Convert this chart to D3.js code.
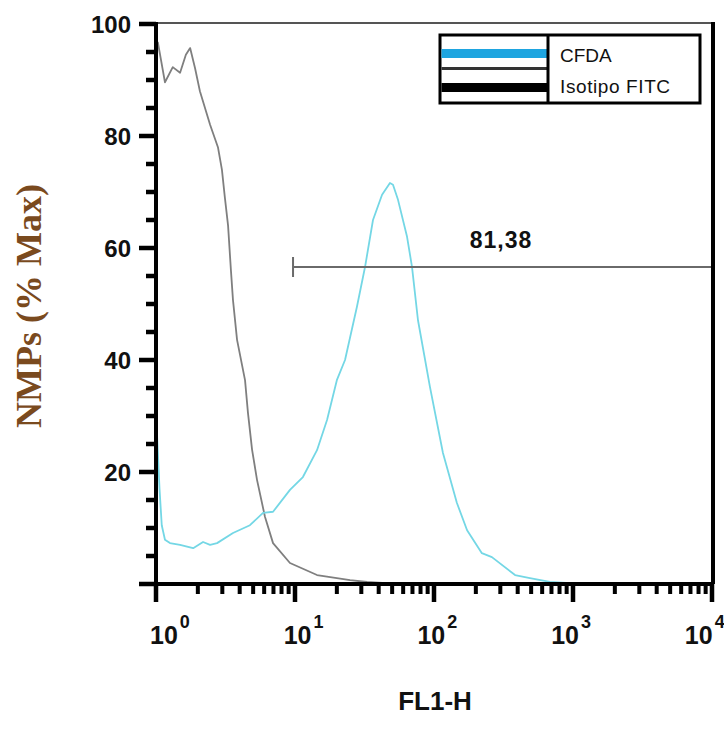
<!DOCTYPE html>
<html>
<head>
<meta charset="utf-8">
<script src="https://cdn.jsdelivr.net/npm/d3@7"></script>
<style>
  html, body { margin: 0; padding: 0; background: #fff; }
  svg { display: block; }
</style>
</head>
<body>
<svg id="chart" width="724" height="729"></svg>
<script>
// ---------- DATA ----------
// Isotype FITC control histogram (FL1-H value, % of max)
const isoFL1 = [1.03, 1.16, 1.32, 1.49, 1.64, 1.76, 1.91, 2.07, 2.45, 2.79, 2.98, 3.13, 3.30, 3.46, 3.58, 3.83, 4.37, 4.59, 4.91, 5.33, 6.08, 6.95, 9.20, 14.4, 24.9, 33.0, 48.2, 79];
const isoPct = [96.8, 89.6, 92.3, 91.3, 94.5, 95.7, 92.1, 88, 82, 78, 74, 69, 64, 56, 50.7, 43.6, 36.4, 30.5, 24, 18.6, 12.0, 7.3, 3.75, 1.6, 0.7, 0.36, 0.1, 0];
// CFDA histogram
const cfdaFL1 = [1.00, 1.02, 1.06, 1.10, 1.16, 1.26, 1.49, 1.85, 2.18, 2.45, 2.75, 3.58, 4.74, 5.89, 6.95, 9.20, 11.4, 14.4, 17.0, 20.0, 22.9, 27.9, 31.9, 36.4, 42.3, 48.2, 50.7, 55.1, 64.0, 69.5, 76.7, 93.5, 116, 146, 173, 221, 261, 383, 490, 682, 955, 1550, 2000];
const cfdaPct = [35, 26, 17, 10.5, 7.9, 7.3, 7.0, 6.4, 7.5, 7.0, 7.3, 9.1, 10.5, 12.7, 12.9, 16.8, 19.1, 23.9, 29.3, 36.4, 40, 49.5, 56.6, 65, 69.5, 71.6, 71.3, 68.6, 62, 56.6, 47.1, 35.2, 23.4, 14.5, 9.6, 5.5, 4.8, 1.6, 1.07, 0.36, 0.15, 0.05, 0];
// Marker gate
const gateRange = [9.68, 10000];
const gateLevel = 56.6;
const gateLabel = "81,38";
// Axes
const xDomain = [1, 10000];
const yDomain = [0, 100];
const xMajorTicks = [1, 10, 100, 1000, 10000];
const xTickExponents = ["0", "1", "2", "3", "4"];
const yMajorTicks = [0, 20, 40, 60, 80, 100];
const yTickLabels = ["", "20", "40", "60", "80", "100"];
const yMinorTicks = [5, 10, 15, 25, 30, 35, 45, 50, 55, 65, 70, 75, 85, 90, 95];
const xMinorMultipliers = [2, 3, 4, 5, 6, 7, 8, 9];
const legendLabels = ["CFDA", "Isotipo FITC"];
const xTitle = "FL1-H";
const yTitle = "NMPs (% Max)";

// ---------- LAYOUT ----------
const L = 156, R = 712, T = 24, B = 584;
const svg = d3.select("#chart");
const x = d3.scaleLog().domain(xDomain).range([L, R]);
const y = d3.scaleLinear().domain(yDomain).range([B, T]);

// curves
const line = d3.line().x(d => x(d[0])).y(d => y(d[1]));
const isoData = isoFL1.map((v, i) => [v, isoPct[i]]);
const cfdaData = cfdaFL1.map((v, i) => [v, cfdaPct[i]]);

svg.append("path").datum(isoData).attr("d", line)
  .attr("fill", "none").attr("stroke", "#7f7f7f").attr("stroke-width", 1.8)
  .attr("stroke-linejoin", "round");
svg.append("path").datum(cfdaData).attr("d", line)
  .attr("fill", "none").attr("stroke", "#74d7e5").attr("stroke-width", 1.8)
  .attr("stroke-linejoin", "round");

// gate marker
svg.append("path")
  .attr("d", `M${x(gateRange[0])},${y(gateLevel)}H${x(gateRange[1])}M${x(gateRange[0])},${y(gateLevel) - 10}V${y(gateLevel) + 10}`)
  .attr("fill", "none").attr("stroke", "#6a6a6a").attr("stroke-width", 2);
svg.append("text")
  .attr("x", 501).attr("y", y(gateLevel) - 19)
  .attr("text-anchor", "middle")
  .attr("font-family", "Liberation Sans, Arial, sans-serif")
  .attr("font-weight", "bold").attr("font-size", 23)
  .attr("letter-spacing", 1)
  .attr("fill", "#111")
  .text(gateLabel);

// frame top / right
svg.append("rect").attr("x", L).attr("y", T - 2).attr("width", R + 3 - L).attr("height", 2).attr("fill", "#555");
svg.append("rect").attr("x", R - 1).attr("y", T - 2).attr("width", 4).attr("height", B - T + 2).attr("fill", "#000");

// y tick labels
svg.append("g").selectAll("text").data(yMajorTicks).join("text")
  .attr("x", L - 25).attr("y", d => y(d)).attr("dy", "0.36em")
  .attr("text-anchor", "end")
  .attr("font-family", "Liberation Sans, Arial, sans-serif")
  .attr("font-weight", "bold").attr("font-size", 24).attr("fill", "#111")
  .text((d, i) => yTickLabels[i]);

// x tick labels 10^n
const xl = svg.append("g");
xMajorTicks.forEach((v, i) => {
  const t = xl.append("text")
    .attr("x", L - 6 + (x(v) - L) * 0.962)
    .attr("y", 644)
    .attr("font-family", "Liberation Sans, Arial, sans-serif")
    .attr("font-weight", "bold").attr("font-size", 25).attr("fill", "#111");
  t.append("tspan").text("10");
  t.append("tspan").attr("dx", 2).attr("dy", -16).attr("font-size", 18).text(xTickExponents[i]);
});

// axis titles
svg.append("text")
  .attr("x", 435).attr("y", 710)
  .attr("text-anchor", "middle")
  .attr("font-family", "Liberation Sans, Arial, sans-serif")
  .attr("font-weight", "bold").attr("font-size", 26).attr("fill", "#111")
  .text(xTitle);
svg.append("text")
  .attr("transform", "translate(41,306) rotate(-90)")
  .attr("text-anchor", "middle")
  .attr("font-family", "Liberation Serif, Times New Roman, serif")
  .attr("font-weight", "bold").attr("font-size", 36).attr("fill", "#7a4a1e")
  .text(yTitle);

// legend
const lg = svg.append("g");
const LX0 = 440, LX1 = 700, LXD = 548, LY0 = 35, LY1 = 103;
lg.append("rect").attr("x", LX0).attr("y", LY0).attr("width", LX1 - LX0).attr("height", LY1 - LY0)
  .attr("fill", "#fff").attr("stroke", "#000").attr("stroke-width", 3);
lg.append("rect").attr("x", LX0 + 1.5).attr("y", 49).attr("width", LXD - LX0 - 1.5).attr("height", 9)
  .attr("fill", "#1ea5e0");
lg.append("rect").attr("x", LX0 + 1.5).attr("y", 67).attr("width", LXD - LX0 - 1.5).attr("height", 3)
  .attr("fill", "#333");
lg.append("rect").attr("x", LX0 + 1.5).attr("y", 83).attr("width", LXD - LX0 - 1.5).attr("height", 9)
  .attr("fill", "#000");
lg.append("rect").attr("x", LXD - 1.5).attr("y", LY0).attr("width", 3).attr("height", LY1 - LY0)
  .attr("fill", "#000");
legendLabels.forEach((t, i) => {
  lg.append("text").attr("x", 560).attr("y", 62 + i * 31)
    .attr("font-family", "Liberation Sans, Arial, sans-serif")
    .attr("font-size", 19).attr("letter-spacing", i === 1 ? 0.6 : 0).attr("fill", "#111")
    .text(t);
});

// axes and ticks (drawn last, from the scales)
const xMinorTicks = [];
xMajorTicks.slice(0, -1).forEach(d => xMinorMultipliers.forEach(m => xMinorTicks.push(d * m)));
const ax = svg.append("g");
ax.append("rect").attr("fill", "#000").attr("x", L - 2).attr("y", y(yDomain[1]) - 2)
  .attr("width", 4).attr("height", B - y(yDomain[1]) + 4);
ax.append("rect").attr("fill", "#000").attr("x", L - 2).attr("y", B - 2)
  .attr("width", x(xDomain[1]) + 3 - L).attr("height", 4);
ax.selectAll("rect.ymaj").data(yMajorTicks).join("rect").attr("class", "ymaj").attr("fill", "#000")
  .attr("x", L - 17).attr("y", d => y(d) - 2.25).attr("width", 17).attr("height", 4.5);
ax.selectAll("rect.ymin").data(yMinorTicks).join("rect").attr("class", "ymin").attr("fill", "#000")
  .attr("x", L - 10).attr("y", d => y(d) - 2.25).attr("width", 10).attr("height", 4.5);
ax.selectAll("rect.xmaj").data(xMajorTicks).join("rect").attr("class", "xmaj").attr("fill", "#000")
  .attr("x", d => x(d) - 2.25).attr("y", B).attr("width", 4.5).attr("height", 18);
ax.selectAll("rect.xmin").data(xMinorTicks).join("rect").attr("class", "xmin").attr("fill", "#000")
  .attr("x", d => x(d) - 2).attr("y", B).attr("width", 4).attr("height", 10);
</script>
</body>
</html>
